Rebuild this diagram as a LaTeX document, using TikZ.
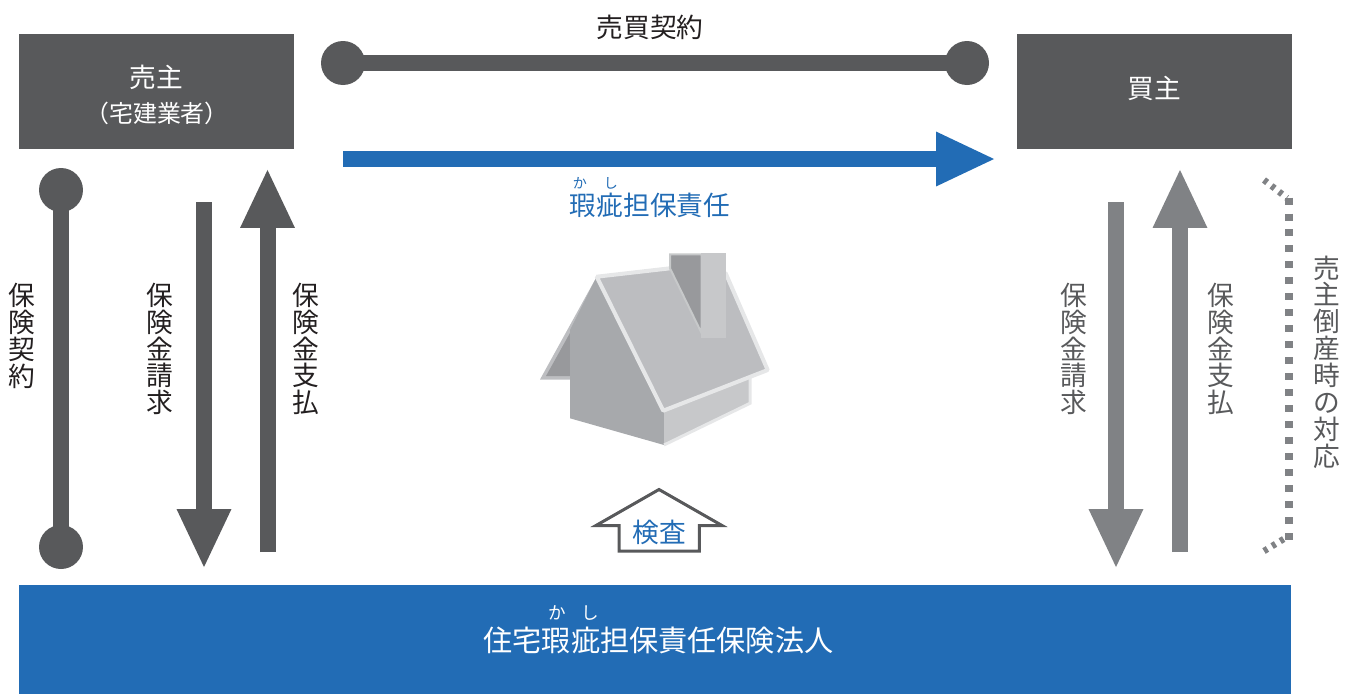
\documentclass[tikz,border=0pt]{standalone}
\usepackage{fontspec}
\usepackage{tikz}
\usetikzlibrary{arrows.meta}
\setmainfont{Noto Sans CJK JP}

\definecolor{darkgr}{HTML}{58595B}
\definecolor{midgr}{HTML}{808285}
\definecolor{txtgr}{HTML}{231F20}
\definecolor{blue1}{HTML}{226CB5}
\definecolor{edgegr}{HTML}{E6E7E8}
\definecolor{roofgr}{HTML}{BCBDC0}
\definecolor{wallgr}{HTML}{A7A9AC}
\definecolor{sidegr}{HTML}{C7C8CA}
\definecolor{shadegr}{HTML}{98999C}

\tikzset{
    party/.style={fill=darkgr, text=white, inner sep=0pt, minimum width=5.5cm, minimum height=2.3cm, align=center},
    dot/.style={circle, fill=darkgr, inner sep=0pt, minimum size=0.88cm},
    tate/.style={align=center, inner sep=0pt, text=txtgr, font=\fontsize{15.2}{15.3}\selectfont},
    ruby/.style={inner sep=0pt, font=\fontsize{8}{8}\selectfont},
    bigarrow/.style={line width=0.32cm, -{Triangle[length=1.2cm,width=1.0cm]}},
}

\begin{document}
\begin{tikzpicture}[x=0.02cm, y=-0.02cm, every node/.style={font=\fontsize{15.2}{18}\selectfont}]
    \useasboundingbox (0,0) rectangle (1357,694);

    % parties
    \node[party] (seller) at (156.5,91.5) {};
    \node[party] (buyer) at (1154.5,91.5) {};
    \node[fill=blue1, inner sep=0pt, minimum width=25.44cm, minimum height=2.18cm] (insurer) at (655,639.5) {};
    \node[text=white, inner sep=0pt] (sellername) at (156.5,77) {売主};
    \node[text=white, inner sep=0pt, font=\fontsize{13.6}{16}\selectfont] (sellernote) at (157,113) {（宅建業者）};
    \node[text=white, inner sep=0pt] (buyername) at (1154.5,88) {買主};
    \node[text=white, inner sep=0pt, font=\fontsize{16.6}{18}\selectfont] (insurername) at (658.5,640) {住宅瑕疵担保責任保険法人};
    \node[ruby, text=white, font=\fontsize{10}{10}\selectfont] (insurerka) at (557,613) {か};
    \node[ruby, text=white, font=\fontsize{10}{10}\selectfont] (insurershi) at (590,613) {し};

    % end points
    \coordinate (blueA) at (343,159);
    \coordinate (blueB) at (996,159);
    \coordinate (claimLa) at (204,202);
    \coordinate (claimLb) at (204,569);
    \coordinate (payLa) at (267.5,552);
    \coordinate (payLb) at (267.5,168);
    \coordinate (claimRa) at (1116,202);
    \coordinate (claimRb) at (1116,569);
    \coordinate (payRa) at (1180,552);
    \coordinate (payRb) at (1180,168);
    \coordinate (dashA) at (1264,180);
    \coordinate (dashB) at (1287,198);
    \coordinate (dashC) at (1289,197.5);
    \coordinate (dashD) at (1289,540.5);
    \coordinate (dashE) at (1287,537);
    \coordinate (dashF) at (1264,551);

    % contract lines
    \node[dot] (saleA) at (343,63) {};
    \node[dot] (saleB) at (967,63) {};
    \node[dot] (policyA) at (61,190) {};
    \node[dot] (policyB) at (61,547) {};
    \draw[darkgr, line width=0.31cm] (saleA.center) -- (saleB.center);
    \draw[darkgr, line width=0.31cm] (policyA.center) -- (policyB.center);

    % arrows
    \draw[bigarrow, blue1] (blueA) -- (blueB);
    \draw[bigarrow, darkgr] (claimLa) -- (claimLb);
    \draw[bigarrow, darkgr] (payLa) -- (payLb);
    \draw[bigarrow, midgr] (claimRa) -- (claimRb);
    \draw[bigarrow, midgr] (payRa) -- (payRb);

    % dotted bracket
    \draw[midgr, line width=0.16cm, dash pattern=on 0.14cm off 0.18cm] (dashC) -- (dashD);
    \draw[midgr, line width=0.13cm, dash pattern=on 0.08cm off 0.11cm] (dashA) -- (dashB);
    \draw[midgr, line width=0.13cm, dash pattern=on 0.08cm off 0.11cm] (dashF) -- (dashE);

    % house
    \fill[edgegr!60!midgr] (540,379.5) -- (596.7,276.7) -- (600,300) -- (570,379.5) -- cycle;
    \fill[shadegr] (546,376) -- (570,333) -- (570,376) -- cycle;
    \fill[wallgr] (570,330) -- (596.7,276.7) -- (664,411.7) -- (664,445) -- (570,418.3) -- cycle;
    \fill[sidegr] (664,411.7) -- (750,376.7) -- (750,403.3) -- (664,445) -- cycle;
    \draw[edgegr, line width=0.06cm] (750,376.7) -- (750,403.3) -- (664,445);
    \filldraw[fill=roofgr, draw=edgegr, line width=0.08cm, line join=bevel] (596.7,276.7) -- (670,268.3) -- (725.7,273.3) -- (767.7,370) -- (663.3,410.7) -- cycle;
    \filldraw[fill=shadegr, draw=edgegr!70!midgr, line width=0.04cm] (670,268.3) -- (670,254.3) -- (701.7,254.3) -- (701.7,333.3) -- cycle;
    \fill[sidegr] (701,253.3) rectangle (725.7,337.7);

    % inspection arrow
    \draw[darkgr, line width=0.06cm] (596,525.5) -- (659,489.5) -- (722,525.5) -- (699.3,525.5) -- (699.3,551) -- (619,551) -- (619,525.5) -- cycle;
    \node[text=blue1, inner sep=0pt] (inspect) at (659,532) {検査};

    % labels
    \node[text=txtgr, inner sep=0pt] (saleTxt) at (650,27.5) {売買契約};
    \node[text=blue1, inner sep=0pt] (defect) at (650,205) {瑕疵担保責任};
    \node[ruby, text=blue1] (defectka) at (580,183) {か};
    \node[ruby, text=blue1] (defectshi) at (611,183) {し};
    \node[tate] (policyTxt) at (22,336) {保\\険\\契\\約};
    \node[tate] (claimLTxt) at (160,349) {保\\険\\金\\請\\求};
    \node[tate] (payLTxt) at (306,349) {保\\険\\金\\支\\払};
    \node[tate, text=darkgr] (claimRTxt) at (1074,349) {保\\険\\金\\請\\求};
    \node[tate, text=darkgr] (payRTxt) at (1221,349) {保\\険\\金\\支\\払};
    \node[tate, text=darkgr] (bankrupt) at (1327,362) {売\\主\\倒\\産\\時\\の\\対\\応};
\end{tikzpicture}
\end{document}
